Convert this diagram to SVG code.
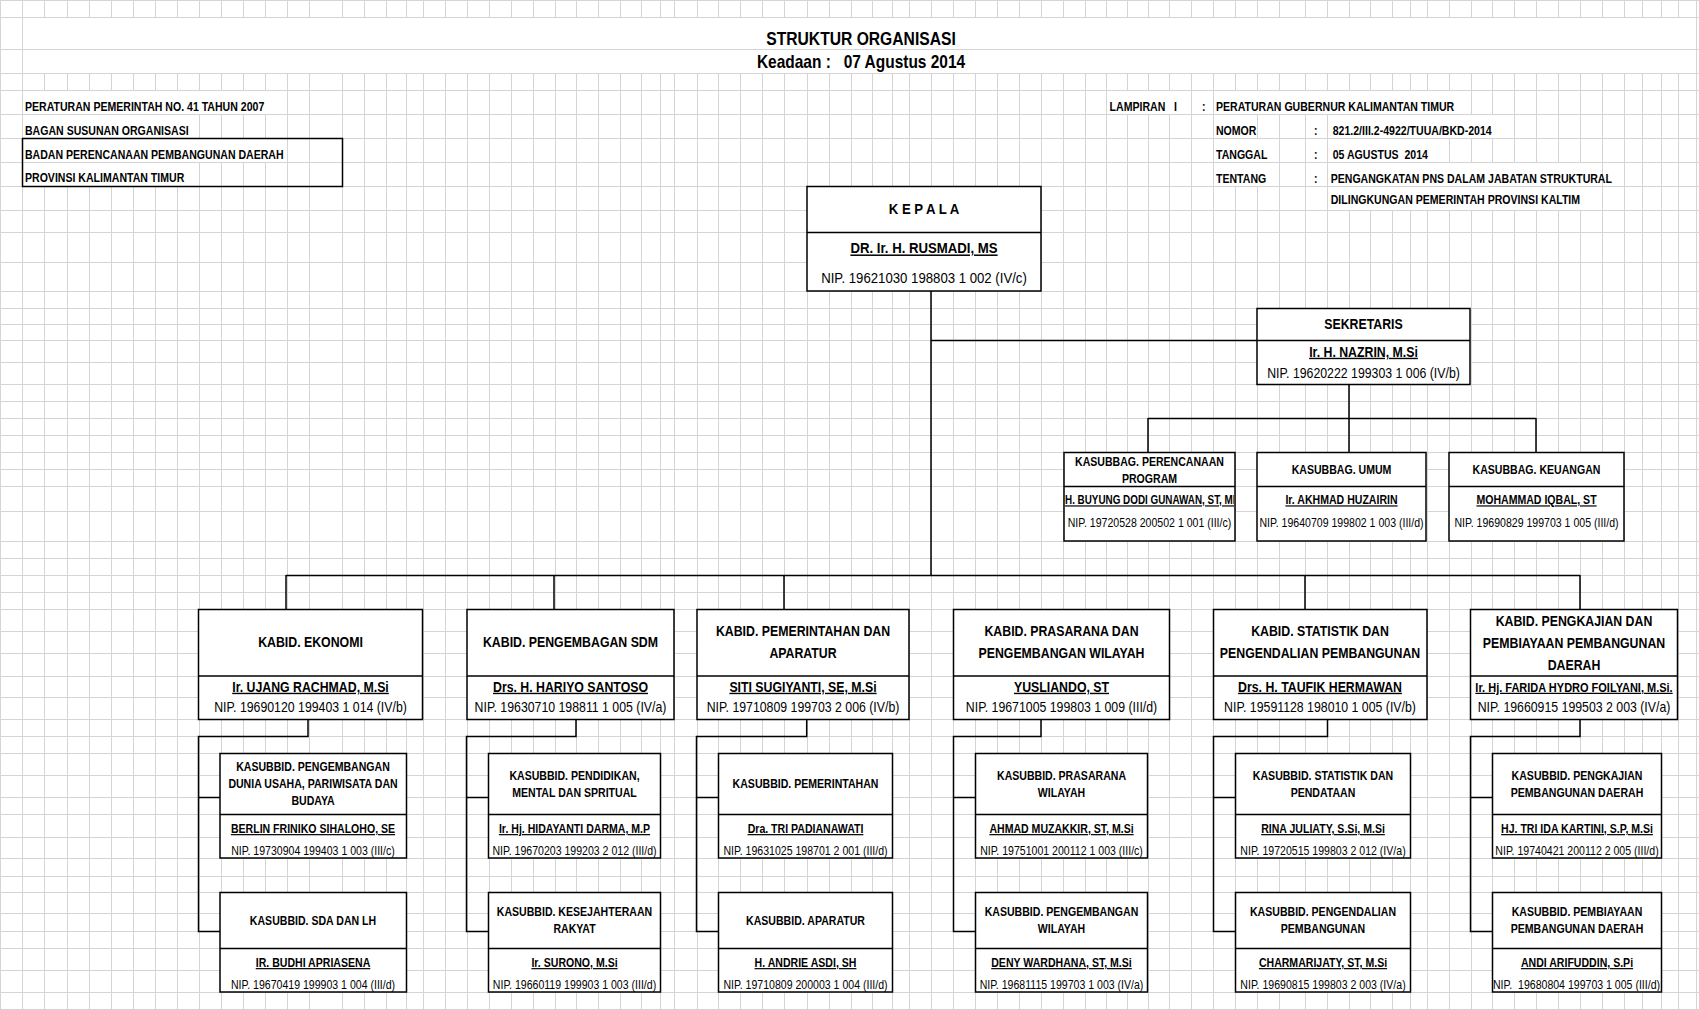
<svg xmlns="http://www.w3.org/2000/svg" width="1699" height="1010" viewBox="0 0 1699 1010">
<style>
.t{font-family:"Liberation Sans",Arial,sans-serif;text-anchor:middle;fill:#000;font-size:12px}
.s{text-anchor:start}
.b{font-weight:bold}
.u{text-decoration:underline}
.f14{font-size:14px}
.f15{font-size:15px}
.f18{font-size:18px}
.box{fill:#fff;stroke:#000;stroke-width:1.5}
.con{fill:none;stroke:#000;stroke-width:1.5}
.grid{stroke:#d4d4d4;stroke-width:1;fill:none}
.m{fill:#fff}
</style>
<defs>
<clipPath id="clipPer"><rect x="1065" y="487" width="169" height="53"/></clipPath>
<clipPath id="clipPemb"><rect x="1493" y="949" width="167" height="42"/></clipPath>
</defs>
<rect width="1699" height="1010" fill="#fff"/>
<g id="grid">
<path class="grid" d="M0.5 0V1010M22.5 0V1010M44.5 0V1010M67.5 0V1010M89.5 0V1010M111.5 0V1010M133.5 0V1010M155.5 0V1010M177.5 0V1010M199.5 0V1010M221.5 0V1010M243.5 0V1010M265.5 0V1010M287.5 0V1010M309.5 0V1010M342.5 0V1010M364.5 0V1010M386.5 0V1010M406.5 0V1010M423.5 0V1010M445.5 0V1010M467.5 0V1010M489.5 0V1010M511.5 0V1010M533.5 0V1010M555.5 0V1010M576.5 0V1010M598.5 0V1010M620.5 0V1010M641.5 0V1010M660.5 0V1010M674.5 0V1010M697.5 0V1010M718.5 0V1010M740.5 0V1010M762.5 0V1010M784.5 0V1010M807.5 0V1010M829.5 0V1010M851.5 0V1010M872.5 0V1010M892.5 0V1010M909.5 0V1010M931.5 0V1010M953.5 0V1010M975.5 0V1010M997.5 0V1010M1019.5 0V1010M1041.5 0V1010M1063.5 0V1010M1085.5 0V1010M1106.5 0V1010M1127.5 0V1010M1148.5 0V1010M1169.5 0V1010M1191.5 0V1010M1213.5 0V1010M1235.5 0V1010M1257.5 0V1010M1279.5 0V1010M1305.5 0V1010M1327.5 0V1010M1349.5 0V1010M1370.5 0V1010M1392.5 0V1010M1410.5 0V1010M1427.5 0V1010M1449.5 0V1010M1471.5 0V1010M1492.5 0V1010M1514.5 0V1010M1536.5 0V1010M1558.5 0V1010M1580.5 0V1010M1602.5 0V1010M1624.5 0V1010M1642.5 0V1010M1661.5 0V1010M1678.5 0V1010M1696.5 0V1010"/>
<path class="grid" d="M0 0.5H1699M0 17.5H1699M0 49.5H1699M0 73.5H1699M0 90.5H1699M0 114.5H1699M0 138.5H1699M0 162.5H1699M0 186.5H1699M0 210.5H1699M0 232.5H1699M0 262.5H1699M0 291.5H1699M0 308.5H1699M0 324.5H1699M0 340.5H1699M0 362.5H1699M0 384.5H1699M0 401.5H1699M0 418.5H1699M0 435.5H1699M0 452.5H1699M0 469.5H1699M0 486.5H1699M0 511.5H1699M0 541.5H1699M0 558.5H1699M0 575.5H1699M0 592.5H1699M0 609.5H1699M0 631.5H1699M0 653.5H1699M0 676.5H1699M0 697.5H1699M0 719.5H1699M0 736.5H1699M0 753.5H1699M0 775.5H1699M0 797.5H1699M0 814.5H1699M0 837.5H1699M0 858.5H1699M0 876.5H1699M0 892.5H1699M0 913.5H1699M0 931.5H1699M0 948.5H1699M0 970.5H1699M0 992.5H1699M0 1009.5H1699"/>
<rect class="m" x="23" y="18" width="1673" height="31"/>
<rect class="m" x="23" y="50" width="1673" height="23"/>
<rect class="m" x="23" y="91" width="264" height="23"/>
<rect class="m" x="23" y="115" width="176" height="23"/>
<rect class="m" x="23" y="139" width="264" height="23"/>
<rect class="m" x="23" y="163" width="176" height="23"/>
<rect class="m" x="1107" y="91" width="84" height="23"/>
<rect class="m" x="1214" y="91" width="256" height="23"/>
<rect class="m" x="1214" y="115" width="43" height="23"/>
<rect class="m" x="1328" y="115" width="186" height="23"/>
<rect class="m" x="1214" y="139" width="65" height="23"/>
<rect class="m" x="1328" y="139" width="114" height="23"/>
<rect class="m" x="1214" y="163" width="65" height="23"/>
<rect class="m" x="1328" y="163" width="274" height="23"/>
<rect class="m" x="1328" y="187" width="274" height="23"/>
</g>
<g id="header">
<text class="t b f18" transform="translate(861,44.7) scale(.87 1)">STRUKTUR ORGANISASI</text>
<text class="t b f18" transform="translate(861,67.5) scale(.86 1)" xml:space="preserve">Keadaan :   07 Agustus 2014</text>
<text class="t b s" transform="translate(25,111) scale(.88 1)">PERATURAN PEMERINTAH NO. 41 TAHUN 2007</text>
<text class="t b s" transform="translate(25,135) scale(.88 1)">BAGAN SUSUNAN ORGANISASI</text>
<rect x="22.5" y="138.5" width="320" height="48" fill="none" stroke="#000" stroke-width="1.5"/>
<text class="t b s" transform="translate(25,159) scale(.88 1)">BADAN PERENCANAAN PEMBANGUNAN DAERAH</text>
<text class="t b s" transform="translate(25,181.6) scale(.88 1)">PROVINSI KALIMANTAN TIMUR</text>
<text class="t b s" transform="translate(1109.6,111) scale(.88 1)" xml:space="preserve">LAMPIRAN   I</text>
<text class="t b s" transform="translate(1202,111) scale(.88 1)">:</text>
<text class="t b s" transform="translate(1216,111) scale(.88 1)">PERATURAN GUBERNUR KALIMANTAN TIMUR</text>
<text class="t b s" transform="translate(1216,135) scale(.88 1)">NOMOR</text>
<text class="t b s" transform="translate(1314,135) scale(.88 1)">:</text>
<text class="t b s" transform="translate(1332.7,135) scale(.88 1)">821.2/III.2-4922/TUUA/BKD-2014</text>
<text class="t b s" transform="translate(1216,159.3) scale(.88 1)">TANGGAL</text>
<text class="t b s" transform="translate(1314,159.3) scale(.88 1)">:</text>
<text class="t b s" transform="translate(1332.7,159.3) scale(.88 1)" xml:space="preserve">05 AGUSTUS  2014</text>
<text class="t b s" transform="translate(1216,182.6) scale(.88 1)">TENTANG</text>
<text class="t b s" transform="translate(1314,182.6) scale(.88 1)">:</text>
<text class="t b s" transform="translate(1330.7,182.6) scale(.88 1)">PENGANGKATAN PNS DALAM JABATAN STRUKTURAL</text>
<text class="t b s" transform="translate(1330.7,204.3) scale(.88 1)">DILINGKUNGAN PEMERINTAH PROVINSI KALTIM</text>
</g>
<g id="connectors">
<path class="con" d="M931 291V575M931 340.5H1257M1349 384V418M1148 418.5H1536M1148 418V452M1349 418V452M1536 418V452"/>
<path class="con" d="M286 575.5H1580M286 575V609M554 575V609M784 575V609M1305 575V609M1580 575V609"/>
<path class="con" d="M308 719V736.5H198.5V931.5H220M198.5 797.5H220"/>
<path class="con" d="M576 719V736.5H466.5V931.5H488M466.5 797.5H488"/>
<path class="con" d="M806.7 719V736.5H696.5V931.5H718M696.5 797.5H718"/>
<path class="con" d="M1041 719V736.5H953.5V931.5H975M953.5 797.5H975"/>
<path class="con" d="M1327.5 719V736.5H1213.5V931.5H1235M1213.5 797.5H1235"/>
<path class="con" d="M1580 719V736.5H1470.5V931.5H1492M1470.5 797.5H1492"/>
</g>
<g id="kepala">
<rect class="box" x="807" y="186.5" width="234" height="104.5"/>
<path class="con" d="M807 232.5H1041"/>
<text class="t b f15" transform="translate(924,214.4) scale(.88 1)">K E P A L A</text>
<text class="t b u f15" transform="translate(924,253.4) scale(.88 1)">DR. Ir. H. RUSMADI, MS</text>
<text class="t f15" transform="translate(924,283) scale(.88 1)">NIP. 19621030 198803 1 002 (IV/c)</text>
</g>
<g id="sekretaris">
<rect class="box" x="1257" y="308.5" width="213" height="76"/>
<path class="con" d="M1257 340.5H1470"/>
<text class="t b f14" transform="translate(1363.5,328.5) scale(.88 1)">SEKRETARIS</text>
<text class="t b u f14" transform="translate(1363.5,356.7) scale(.88 1)">Ir. H. NAZRIN, M.Si</text>
<text class="t f14" transform="translate(1363.5,378) scale(.88 1)">NIP. 19620222 199303 1 006 (IV/b)</text>
</g>
<g id="kasubbag-perencanaan">
<rect class="box" x="1064" y="452.5" width="171" height="88.5"/>
<path class="con" d="M1064 486.5H1235"/>
<text class="t b" transform="translate(1149.5,466) scale(.88 1)">KASUBBAG. PERENCANAAN</text>
<text class="t b" transform="translate(1149.5,482.6) scale(.88 1)">PROGRAM</text>
<g clip-path="url(#clipPer)"><text class="t b u s" transform="translate(1065,504.3) scale(.88 1)" textLength="200" lengthAdjust="spacingAndGlyphs">H. BUYUNG DODI GUNAWAN, ST, MM</text></g>
<text class="t" transform="translate(1149.5,526.6) scale(.88 1)">NIP. 19720528 200502 1 001 (III/c)</text>
</g>
<g id="kasubbag-umum">
<rect class="box" x="1257" y="452.5" width="169" height="88.5"/>
<path class="con" d="M1257 486.5H1426"/>
<text class="t b" transform="translate(1341.5,474.3) scale(.88 1)">KASUBBAG. UMUM</text>
<text class="t b u" transform="translate(1341.5,504.3) scale(.88 1)">Ir. AKHMAD HUZAIRIN</text>
<text class="t" transform="translate(1341.5,526.6) scale(.88 1)">NIP. 19640709 199802 1 003 (III/d)</text>
</g>
<g id="kasubbag-keuangan">
<rect class="box" x="1449" y="452.5" width="175" height="88.5"/>
<path class="con" d="M1449 486.5H1624"/>
<text class="t b" transform="translate(1536.5,474.3) scale(.88 1)">KASUBBAG. KEUANGAN</text>
<text class="t b u" transform="translate(1536.5,504.3) scale(.88 1)">MOHAMMAD IQBAL, ST</text>
<text class="t" transform="translate(1536.5,526.6) scale(.88 1)">NIP. 19690829 199703 1 005 (III/d)</text>
</g>
<g id="kabid-ekonomi">
<rect class="box" x="198.5" y="609.5" width="224" height="110"/>
<path class="con" d="M198.5 676H422.5"/>
<text class="t b f14" transform="translate(310.5,646.7) scale(.88 1)">KABID. EKONOMI</text>
<text class="t b u f14" transform="translate(310.5,691.7) scale(.88 1)">Ir. UJANG RACHMAD, M.Si</text>
<text class="t f14" transform="translate(310.5,712.3) scale(.88 1)">NIP. 19690120 199403 1 014 (IV/b)</text>
</g>
<g id="kabid-sdm">
<rect class="box" x="467" y="609.5" width="207" height="110"/>
<path class="con" d="M467 676H674"/>
<text class="t b f14" transform="translate(570.5,646.7) scale(.88 1)">KABID. PENGEMBAGAN SDM</text>
<text class="t b u f14" transform="translate(570.5,691.7) scale(.88 1)">Drs. H. HARIYO SANTOSO</text>
<text class="t f14" transform="translate(570.5,712.3) scale(.88 1)">NIP. 19630710 198811 1 005 (IV/a)</text>
</g>
<g id="kabid-pemerintahan">
<rect class="box" x="697" y="609.5" width="212" height="110"/>
<path class="con" d="M697 676H909"/>
<text class="t b f14" transform="translate(803,635.7) scale(.88 1)">KABID. PEMERINTAHAN DAN</text>
<text class="t b f14" transform="translate(803,657.7) scale(.88 1)">APARATUR</text>
<text class="t b u f14" transform="translate(803,691.7) scale(.88 1)">SITI SUGIYANTI, SE, M.Si</text>
<text class="t f14" transform="translate(803,712.3) scale(.88 1)">NIP. 19710809 199703 2 006 (IV/b)</text>
</g>
<g id="kabid-prasarana">
<rect class="box" x="953.5" y="609.5" width="216" height="110"/>
<path class="con" d="M953.5 676H1169.5"/>
<text class="t b f14" transform="translate(1061.5,635.7) scale(.88 1)">KABID. PRASARANA DAN</text>
<text class="t b f14" transform="translate(1061.5,657.7) scale(.88 1)">PENGEMBANGAN WILAYAH</text>
<text class="t b u f14" transform="translate(1061.5,691.7) scale(.88 1)">YUSLIANDO, ST</text>
<text class="t f14" transform="translate(1061.5,712.3) scale(.88 1)">NIP. 19671005 199803 1 009 (III/d)</text>
</g>
<g id="kabid-statistik">
<rect class="box" x="1213.5" y="609.5" width="213.5" height="110"/>
<path class="con" d="M1213.5 676H1427"/>
<text class="t b f14" transform="translate(1320,635.7) scale(.88 1)">KABID. STATISTIK DAN</text>
<text class="t b f14" transform="translate(1320,657.7) scale(.88 1)">PENGENDALIAN PEMBANGUNAN</text>
<text class="t b u f14" transform="translate(1320,691.7) scale(.88 1)">Drs. H. TAUFIK HERMAWAN</text>
<text class="t f14" transform="translate(1320,712.3) scale(.88 1)">NIP. 19591128 198010 1 005 (IV/b)</text>
</g>
<g id="kabid-pengkajian">
<rect class="box" x="1470.5" y="609.5" width="207" height="110"/>
<path class="con" d="M1470.5 676H1677.5"/>
<text class="t b f14" transform="translate(1574,625.7) scale(.88 1)">KABID. PENGKAJIAN DAN</text>
<text class="t b f14" transform="translate(1574,647.7) scale(.88 1)">PEMBIAYAAN PEMBANGUNAN</text>
<text class="t b f14" transform="translate(1574,669.7) scale(.88 1)">DAERAH</text>
<text class="t b u" style="font-size:12.5px" transform="translate(1574,691.7) scale(.88 1)">Ir. Hj. FARIDA HYDRO FOILYANI, M.Si.</text>
<text class="t f14" transform="translate(1574,712.3) scale(.88 1)">NIP. 19660915 199503 2 003 (IV/a)</text>
</g>
<g id="kasubbid-pengembangan-dunia-usaha">
<rect class="box" x="220" y="753.5" width="186.5" height="104.5"/>
<path class="con" d="M220 814.5H406.5"/>
<text class="t b" transform="translate(313,771) scale(.88 1)">KASUBBID. PENGEMBANGAN</text>
<text class="t b" transform="translate(313,787.6) scale(.88 1)">DUNIA USAHA, PARIWISATA DAN</text>
<text class="t b" transform="translate(313,804.6) scale(.88 1)">BUDAYA</text>
<text class="t b u" transform="translate(313,833) scale(.88 1)">BERLIN FRINIKO SIHALOHO, SE</text>
<text class="t" transform="translate(313,855) scale(.88 1)">NIP. 19730904 199403 1 003 (III/c)</text>
</g>
<g id="kasubbid-sda-lh">
<rect class="box" x="220" y="892.5" width="186.5" height="99.5"/>
<path class="con" d="M220 948.5H406.5"/>
<text class="t b" transform="translate(313,925) scale(.88 1)">KASUBBID. SDA DAN LH</text>
<text class="t b u" transform="translate(313,967) scale(.88 1)">IR. BUDHI APRIASENA</text>
<text class="t" transform="translate(313,989.3) scale(.88 1)">NIP. 19670419 199903 1 004 (III/d)</text>
</g>
<g id="kasubbid-pendidikan">
<rect class="box" x="488.5" y="753.5" width="172" height="104.5"/>
<path class="con" d="M488.5 814.5H660.5"/>
<text class="t b" transform="translate(574.5,780) scale(.88 1)">KASUBBID. PENDIDIKAN,</text>
<text class="t b" transform="translate(574.5,797) scale(.88 1)">MENTAL DAN SPRITUAL</text>
<text class="t b u" transform="translate(574.5,833) scale(.88 1)">Ir. Hj. HIDAYANTI DARMA, M.P</text>
<text class="t" transform="translate(574.5,855) scale(.88 1)">NIP. 19670203 199203 2 012 (III/d)</text>
</g>
<g id="kasubbid-kesejahteraan">
<rect class="box" x="488.5" y="892.5" width="172" height="99.5"/>
<path class="con" d="M488.5 948.5H660.5"/>
<text class="t b" transform="translate(574.5,916) scale(.88 1)">KASUBBID. KESEJAHTERAAN</text>
<text class="t b" transform="translate(574.5,933) scale(.88 1)">RAKYAT</text>
<text class="t b u" transform="translate(574.5,967) scale(.88 1)">Ir. SURONO, M.Si</text>
<text class="t" transform="translate(574.5,989.3) scale(.88 1)">NIP. 19660119 199903 1 003 (III/d)</text>
</g>
<g id="kasubbid-pemerintahan">
<rect class="box" x="718.5" y="753.5" width="174" height="104.5"/>
<path class="con" d="M718.5 814.5H892.5"/>
<text class="t b" transform="translate(805.5,788) scale(.88 1)">KASUBBID. PEMERINTAHAN</text>
<text class="t b u" transform="translate(805.5,833) scale(.88 1)">Dra. TRI PADIANAWATI</text>
<text class="t" transform="translate(805.5,855) scale(.88 1)">NIP. 19631025 198701 2 001 (III/d)</text>
</g>
<g id="kasubbid-aparatur">
<rect class="box" x="718.5" y="892.5" width="174" height="99.5"/>
<path class="con" d="M718.5 948.5H892.5"/>
<text class="t b" transform="translate(805.5,925) scale(.88 1)">KASUBBID. APARATUR</text>
<text class="t b u" transform="translate(805.5,967) scale(.88 1)">H. ANDRIE ASDI, SH</text>
<text class="t" transform="translate(805.5,989.3) scale(.88 1)">NIP. 19710809 200003 1 004 (III/d)</text>
</g>
<g id="kasubbid-prasarana-wilayah">
<rect class="box" x="975.5" y="753.5" width="172" height="104.5"/>
<path class="con" d="M975.5 814.5H1147.5"/>
<text class="t b" transform="translate(1061.5,780) scale(.88 1)">KASUBBID. PRASARANA</text>
<text class="t b" transform="translate(1061.5,797) scale(.88 1)">WILAYAH</text>
<text class="t b u" transform="translate(1061.5,833) scale(.88 1)">AHMAD MUZAKKIR, ST, M.Si</text>
<text class="t" transform="translate(1061.5,855) scale(.88 1)">NIP. 19751001 200112 1 003 (III/c)</text>
</g>
<g id="kasubbid-pengembangan-wilayah">
<rect class="box" x="975.5" y="892.5" width="172" height="99.5"/>
<path class="con" d="M975.5 948.5H1147.5"/>
<text class="t b" transform="translate(1061.5,916) scale(.88 1)">KASUBBID. PENGEMBANGAN</text>
<text class="t b" transform="translate(1061.5,933) scale(.88 1)">WILAYAH</text>
<text class="t b u" transform="translate(1061.5,967) scale(.88 1)">DENY WARDHANA, ST, M.Si</text>
<text class="t" transform="translate(1061.5,989.3) scale(.88 1)">NIP. 19681115 199703 1 003 (IV/a)</text>
</g>
<g id="kasubbid-statistik">
<rect class="box" x="1235.5" y="753.5" width="175" height="104.5"/>
<path class="con" d="M1235.5 814.5H1410.5"/>
<text class="t b" transform="translate(1323,780) scale(.88 1)">KASUBBID. STATISTIK DAN</text>
<text class="t b" transform="translate(1323,797) scale(.88 1)">PENDATAAN</text>
<text class="t b u" transform="translate(1323,833) scale(.88 1)">RINA JULIATY, S.Si, M.Si</text>
<text class="t" transform="translate(1323,855) scale(.88 1)">NIP. 19720515 199803 2 012 (IV/a)</text>
</g>
<g id="kasubbid-pengendalian">
<rect class="box" x="1235.5" y="892.5" width="175" height="99.5"/>
<path class="con" d="M1235.5 948.5H1410.5"/>
<text class="t b" transform="translate(1323,916) scale(.88 1)">KASUBBID. PENGENDALIAN</text>
<text class="t b" transform="translate(1323,933) scale(.88 1)">PEMBANGUNAN</text>
<text class="t b u" transform="translate(1323,967) scale(.88 1)">CHARMARIJATY, ST, M.Si</text>
<text class="t" transform="translate(1323,989.3) scale(.88 1)">NIP. 19690815 199803 2 003 (IV/a)</text>
</g>
<g id="kasubbid-pengkajian">
<rect class="box" x="1492.5" y="753.5" width="169" height="104.5"/>
<path class="con" d="M1492.5 814.5H1661.5"/>
<text class="t b" transform="translate(1577,780) scale(.88 1)">KASUBBID. PENGKAJIAN</text>
<text class="t b" transform="translate(1577,797) scale(.88 1)">PEMBANGUNAN DAERAH</text>
<text class="t b u" transform="translate(1577,833) scale(.88 1)">HJ. TRI IDA KARTINI, S.P, M.Si</text>
<text class="t" transform="translate(1577,855) scale(.88 1)">NIP. 19740421 200112 2 005 (III/d)</text>
</g>
<g id="kasubbid-pembiayaan">
<rect class="box" x="1492.5" y="892.5" width="169" height="99.5"/>
<path class="con" d="M1492.5 948.5H1661.5"/>
<text class="t b" transform="translate(1577,916) scale(.88 1)">KASUBBID. PEMBIAYAAN</text>
<text class="t b" transform="translate(1577,933) scale(.88 1)">PEMBANGUNAN DAERAH</text>
<text class="t b u" transform="translate(1577,967) scale(.88 1)">ANDI ARIFUDDIN, S.Pi</text>
<g clip-path="url(#clipPemb)"><text class="t s" transform="translate(1493,989.3) scale(.88 1)" xml:space="preserve">NIP.  19680804 199703 1 005 (III/d)</text></g>
</g>
</svg>
